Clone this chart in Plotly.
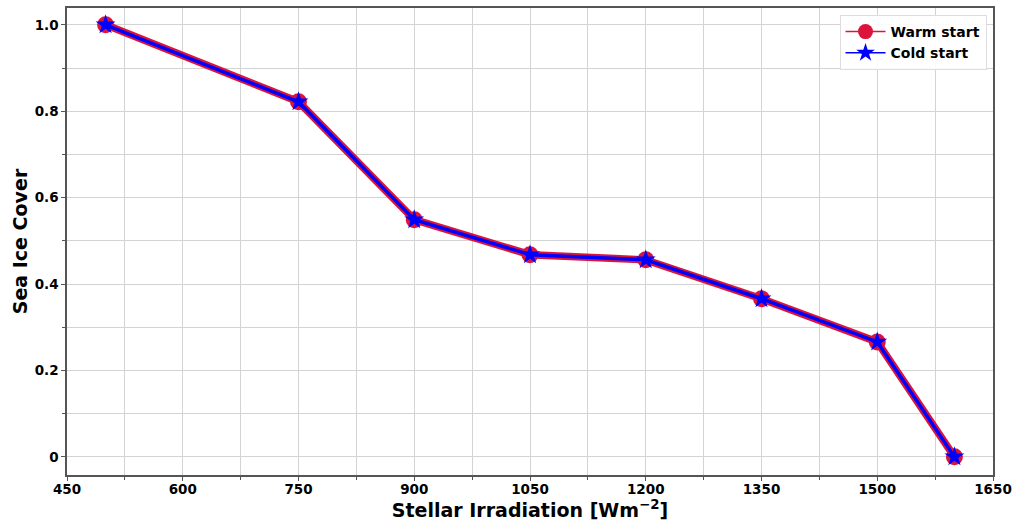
import plotly.graph_objects as go

irradiation = [500, 750, 900, 1050, 1200, 1350, 1500, 1600]
warm_start = [1.0, 0.822, 0.549, 0.468, 0.456, 0.366, 0.266, 0.0]
cold_start = [1.0, 0.822, 0.549, 0.468, 0.456, 0.366, 0.266, 0.0]

x_ticks = [450, 600, 750, 900, 1050, 1200, 1350, 1500, 1650]
y_ticks = [0, 0.2, 0.4, 0.6, 0.8, 1.0]
y_tick_text = ["0", "0.2", "0.4", "0.6", "0.8", "1.0"]

font_family = "DejaVu Sans"

fig = go.Figure()
# data traces
fig.add_trace(go.Scatter(
    x=irradiation, y=warm_start, name="Warm start", mode="lines+markers",
    line=dict(color="crimson", width=7.5),
    marker=dict(symbol="circle", size=17, color="crimson"),
    showlegend=False,
))
fig.add_trace(go.Scatter(
    x=irradiation, y=cold_start, name="Cold start", mode="lines+markers",
    line=dict(color="blue", width=3.5),
    marker=dict(symbol="star", size=15, color="blue", line=dict(width=0)),
    showlegend=False,
))
# legend entries (thin lines as in the reference legend)
fig.add_trace(go.Scatter(
    x=[None], y=[None], name="<b>Warm start</b>", mode="lines+markers",
    line=dict(color="crimson", width=1.5),
    marker=dict(symbol="circle", size=15, color="crimson"),
))
fig.add_trace(go.Scatter(
    x=[None], y=[None], name="<b>Cold start</b>", mode="lines+markers",
    line=dict(color="blue", width=1.5),
    marker=dict(symbol="star", size=14, color="blue", line=dict(width=0)),
))

axis_common = dict(
    showline=True, linecolor="#555555", linewidth=1.5, mirror=True,
    showgrid=True, gridcolor="#d3d3d3", gridwidth=1,
    ticks="outside", ticklen=4, tickcolor="#555555",
    tickfont=dict(family=font_family, size=13.5, color="black", weight="bold"),
    zeroline=False, automargin=False,
)

fig.update_layout(
    width=1014, height=521,
    margin=dict(l=67, r=21, t=8, b=46),
    paper_bgcolor="white", plot_bgcolor="white",
    font=dict(family=font_family, color="black"),
    showlegend=True,
    legend=dict(
        x=0.993, y=0.985, xanchor="right", yanchor="top",
        bgcolor="rgba(255,255,255,0.9)", bordercolor="#dddddd", borderwidth=1,
        font=dict(family=font_family, size=14, color="black"),
        itemwidth=40, tracegroupgap=0,
    ),
    xaxis=dict(
        **axis_common,
        range=[450, 1650], tickvals=x_ticks, ticklabelstandoff=-3,
        minor=dict(dtick=75, tick0=450, showgrid=True, gridcolor="#d3d3d3",
                   ticks="outside", ticklen=3, tickcolor="#555555"),
        title=dict(text="<b>Stellar Irradiation [Wm<sup>−2</sup>]</b>",
                   font=dict(family=font_family, size=19, color="black"), standoff=4),
    ),
    yaxis=dict(
        **axis_common,
        range=[-0.042, 1.039], tickvals=y_ticks, ticktext=y_tick_text,
        minor=dict(dtick=0.1, tick0=0, showgrid=True, gridcolor="#d3d3d3",
                   ticks="outside", ticklen=3, tickcolor="#555555"),
        title=dict(text="<b>Sea Ice Cover</b>",
                   font=dict(family=font_family, size=19, color="black"), standoff=2),
    ),
)

fig.write_html("out.html", config={"displayModeBar": False},
               post_script="document.body.style.margin='0';document.body.style.overflow='hidden';")
